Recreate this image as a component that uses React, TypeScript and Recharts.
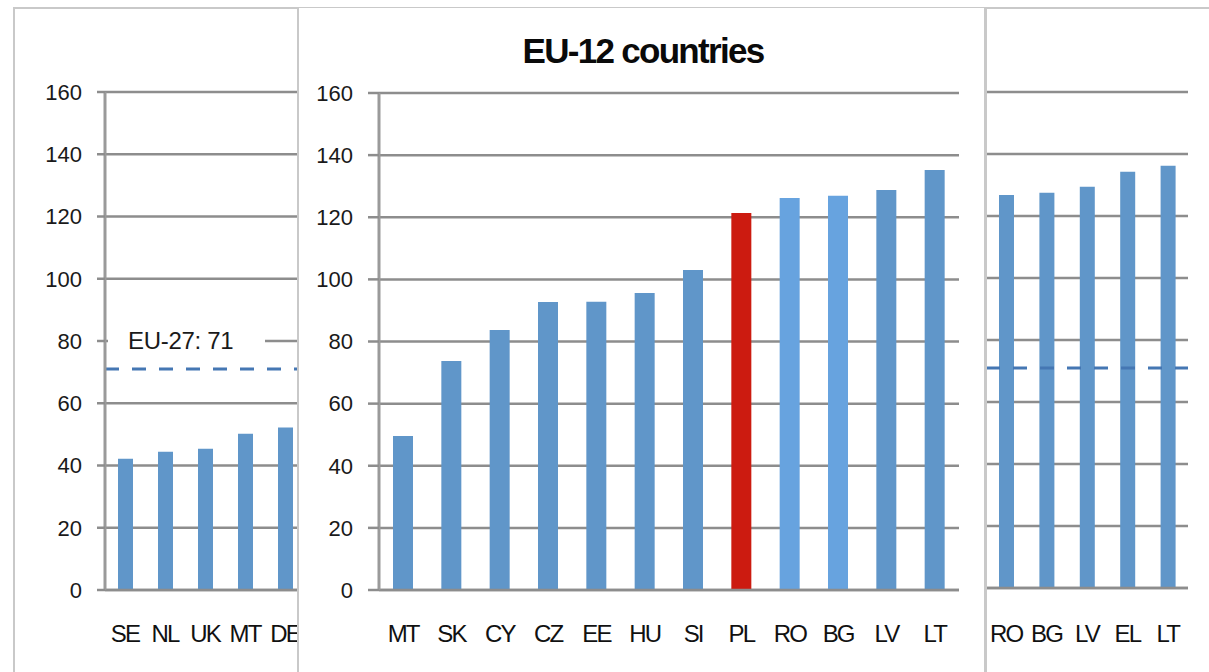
import React from 'react';
import { BarChart, Bar, XAxis, YAxis, CartesianGrid, Cell, ReferenceLine } from 'recharts';

const leftCountries = ['SE', 'NL', 'UK', 'MT', 'DE'];
const leftValues = [42.2, 44.4, 45.4, 50.2, 52.2];

const mainCountries = ['MT', 'SK', 'CY', 'CZ', 'EE', 'HU', 'SI', 'PL', 'RO', 'BG', 'LV', 'LT'];
const mainValues = [49.6, 73.7, 83.7, 92.7, 92.8, 95.6, 103, 121.4, 126.2, 126.9, 128.8, 135.2];

const rightCountries = ['RO', 'BG', 'LV', 'EL', 'LT'];
const rightValues = [126.8, 127.5, 129.4, 134.3, 136.2];

const yTicks = [0, 20, 40, 60, 80, 100, 120, 140, 160];
const eu27Average = 71;
const eu27Label = 'EU-27: 71';
const title = 'EU-12 countries';

const highlightCountry = 'PL';
const lightCountries = ['RO', 'BG'];

const BLUE = '#6096c9';
const LIGHT_BLUE = '#67a3df';
const RED = '#cc1b10';
const GRID = '#8d8d8d';
const AXIS = '#9a9a9a';
const FRAME = '#c9c9c9';
const DASH = '#4577b3';
const FONT = '"Liberation Sans", Arial, Helvetica, sans-serif';

const leftData = leftCountries.map((c, i) => ({ country: c, value: leftValues[i] }));
const mainData = mainCountries.map((c, i) => ({ country: c, value: mainValues[i] }));
const rightData = rightCountries.map((c, i) => ({ country: c, value: rightValues[i] }));

const yTickStyle = { fontSize: 22, fill: '#1a1a1a', fontFamily: FONT };
const xTickStyle = { fontSize: 24, fill: '#111', fontFamily: FONT, letterSpacing: -1.8 };

const EuLabel = (props: any) => {
  const vb = props.viewBox || {};
  const x = vb.x ?? 0;
  const y = vb.y ?? 0;
  return (
    <g>
      <rect x={x + 3} y={y - 41} width={157} height={26} fill="#fff" />
      <text x={x + 23} y={y - 20} fontSize={24} fontFamily={FONT} fill="#1a1a1a" letterSpacing={-0.3}>
        {eu27Label}
      </text>
    </g>
  );
};

export default function App() {
  return (
    <div style={{ position: 'absolute', left: 0, top: 0, width: 1209, height: 672, overflow: 'hidden', background: '#fff' }}>
      {/* left panel frame */}
      <div style={{ position: 'absolute', left: 13, top: 8, width: 2, height: 680, background: FRAME }} />
      {/* top frame line */}
      <div style={{ position: 'absolute', left: 13, top: 7, width: 1196, height: 2, background: FRAME }} />

      {/* left chart */}
      <div style={{ position: 'absolute', left: 0, top: 0 }}>
        <BarChart width={310} height={672} data={leftData} margin={{ top: 92, right: 5, bottom: 0, left: 0 }}>
          <CartesianGrid vertical={false} stroke={GRID} strokeWidth={2.5} />
          <XAxis dataKey="country" interval={0} height={82} tickSize={0} tickMargin={35}
            axisLine={{ stroke: GRID, strokeWidth: 2.5 }} tickLine={false} tick={xTickStyle} />
          <YAxis domain={[0, 160]} ticks={yTicks} width={105} tickSize={8} tickMargin={15}
            axisLine={{ stroke: AXIS, strokeWidth: 3 }} tickLine={{ stroke: GRID, strokeWidth: 2.5 }} tick={yTickStyle} />
          <Bar dataKey="value" barSize={15} fill={BLUE} isAnimationActive={false} />
          <ReferenceLine y={eu27Average} stroke={DASH} strokeWidth={3} strokeDasharray="14 13" label={<EuLabel />} />
        </BarChart>
      </div>

      {/* right chart */}
      <div style={{ position: 'absolute', left: 986, top: 0 }}>
        <BarChart width={223} height={672} data={rightData} margin={{ top: 92, right: 21, bottom: 0, left: 0 }}>
          <CartesianGrid vertical={false} stroke={GRID} strokeWidth={2.5} />
          <XAxis dataKey="country" interval={0} height={84} tickSize={0} tickMargin={37}
            axisLine={{ stroke: GRID, strokeWidth: 2.5 }} tickLine={false} tick={xTickStyle} />
          <YAxis domain={[0, 160]} ticks={yTicks} hide />
          <Bar dataKey="value" barSize={15} fill={BLUE} isAnimationActive={false} />
          <ReferenceLine y={eu27Average} stroke={DASH} strokeWidth={3} strokeDasharray="14 13" />
        </BarChart>
      </div>
      <div style={{ position: 'absolute', left: 984, top: 8, width: 3, height: 680, background: FRAME }} />

      {/* main panel frame */}
      <div style={{ position: 'absolute', left: 297, top: 8, width: 689, height: 680, background: '#fff', borderLeft: `2px solid ${FRAME}`, borderRight: `2px solid ${FRAME}`, boxSizing: 'border-box' }} />
      <div style={{ position: 'absolute', left: 298, top: 31, width: 690, textAlign: 'center', fontFamily: FONT, fontWeight: 'bold', fontSize: 35, letterSpacing: -1.7, color: '#0a0a0a', lineHeight: '40px' }}>
        {title}
      </div>
      <div style={{ position: 'absolute', left: 298, top: 0 }}>
        <BarChart width={690} height={672} data={mainData} margin={{ top: 93, right: 29, bottom: 0, left: 0 }}>
          <CartesianGrid vertical={false} stroke={GRID} strokeWidth={2.5} />
          <XAxis dataKey="country" interval={0} height={82} tickSize={0} tickMargin={35}
            axisLine={{ stroke: GRID, strokeWidth: 2.5 }} tickLine={false} tick={xTickStyle} />
          <YAxis domain={[0, 160]} ticks={yTicks} width={81} tickSize={11} tickMargin={15}
            axisLine={{ stroke: AXIS, strokeWidth: 3 }} tickLine={{ stroke: GRID, strokeWidth: 2.5 }} tick={yTickStyle} />
          <Bar dataKey="value" barSize={20} isAnimationActive={false}>
            {mainData.map((d) => (
              <Cell key={d.country} fill={d.country === highlightCountry ? RED : lightCountries.includes(d.country) ? LIGHT_BLUE : BLUE} />
            ))}
          </Bar>
        </BarChart>
      </div>
    </div>
  );
}
